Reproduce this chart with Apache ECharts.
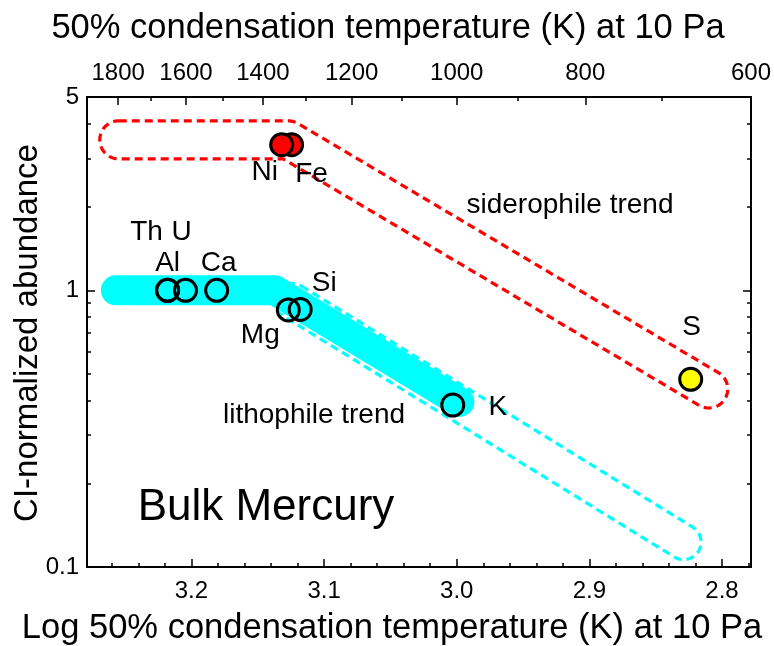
<!DOCTYPE html>
<html>
<head>
<meta charset="utf-8">
<title>Bulk Mercury</title>
<script src="https://cdn.jsdelivr.net/npm/echarts@6/dist/echarts.min.js"></script>
<style>
  html, body { margin: 0; padding: 0; background: #fff; }
  #chart { width: 774px; height: 646px; }
</style>
</head>
<body>
<div id="chart"></div>
<script>
// x: log10 of 50% condensation temperature (K) at 10 Pa, y: CI-normalized abundance
const lithoNames = ['Th', 'Al', 'U', 'Ca', 'Mg', 'Si', 'K'];
const lithoLogT = [3.218, 3.218, 3.2045, 3.181, 3.127, 3.118, 3.003];
const lithoAbund = [1.0, 1.0, 1.0, 1.0, 0.85, 0.853, 0.385];

const sideroNames = ['Fe', 'Ni'];
const sideroLogT = [3.1245, 3.132];
const sideroAbund = [3.36, 3.36];

const sulfurNames = ['S'];
const sulfurLogT = [2.8236];
const sulfurAbund = [0.477];

// centre lines of the trend envelopes [logT, abundance]
const lithoBand = [[3.257, 1.0], [3.137, 1.0], [2.998, 0.395]];
const lithoExtension = [[3.124, 0.915], [2.829, 0.123]];
const sideroTrend = [[3.2548, 3.50], [3.127, 3.50], [2.810, 0.44]];

// ticks
const logTicks = [2.8, 2.9, 3.0, 3.1, 3.2];
const logMinorTicks = [2.78, 2.82, 2.84, 2.86, 2.88, 2.92, 2.94, 2.96, 2.98, 3.02, 3.04, 3.06, 3.08,
  3.12, 3.14, 3.16, 3.18, 3.22, 3.24, 3.26];
const tempTicks = [1800, 1600, 1400, 1200, 1000, 800, 600];
const tempMinorTicks = [1700, 1500, 1300, 1100, 900, 700];
const abundTicks = [0.1, 1, 5];
const abundMinorTicks = [0.2, 0.3, 0.4, 0.5, 0.6, 0.7, 0.8, 0.9, 2, 3, 4];

const XMIN = Math.log10(600);
const XMAX = Math.log10(1900);
const YMIN = 0.1;
const YMAX = 5;

const FONT = 'Liberation Sans';

// label offsets from the symbol centre (px)
const labelOffset = {
  Th: [-21, -58], Al: [0, -27], U: [-4, -58], Ca: [2, -27],
  Mg: [-28, 25], Si: [24, -26], K: [45, 2],
  Fe: [20, 30], Ni: [-17, 28], S: [1, -52]
};

const chart = echarts.init(document.getElementById('chart'));

const axisLine = { show: true, onZero: false, lineStyle: { color: '#000', width: 2 } };
const noLine = { show: false, onZero: false };

function xTickAxis(position, values, len, labelFn) {
  return {
    type: 'value', position: position, inverse: true, min: XMIN, max: XMAX,
    axisLine: labelFn ? axisLine : noLine,
    splitLine: { show: false },
    axisTick: { show: true, inside: true, length: len, customValues: values,
      lineStyle: { color: '#000', width: 1.5 } },
    axisLabel: labelFn ? {
      show: true, customValues: values, formatter: labelFn, margin: 12,
      color: '#000', fontSize: 24, fontFamily: FONT
    } : { show: false }
  };
}

function yTickAxis(position, values, len, withLabels) {
  const logs = values.map(v => Math.log10(v));
  return {
    type: 'value', position: position, min: Math.log10(YMIN), max: Math.log10(YMAX),
    axisLine: noLine,
    splitLine: { show: false },
    axisTick: { show: true, inside: true, length: len, customValues: logs,
      lineStyle: { color: '#000', width: 1.5 } },
    axisLabel: withLabels ? {
      show: true, customValues: logs, margin: 8, color: '#000', fontSize: 24, fontFamily: FONT,
      formatter: v => {
        const i = logs.findIndex(l => Math.abs(l - v) < 1e-9);
        return i >= 0 ? String(values[i]) : '';
      }
    } : { show: false }
  };
}

// dashed envelope round a centre line: offset both sides, round ends and outer bends
function outlinePoints(pts, h) {
  const add = (p, a, r) => [p[0] + r * Math.cos(a), p[1] + r * Math.sin(a)];
  const arc = (res, c, a0, a1) => {
    const steps = Math.max(1, Math.ceil(Math.abs(a1 - a0) / (Math.PI / 36)));
    for (let k = 0; k <= steps; k++) res.push(add(c, a0 + (a1 - a0) * k / steps, h));
  };
  const side = p => {
    const res = [];
    const ang = [];
    for (let i = 0; i < p.length - 1; i++) {
      ang.push(Math.atan2(p[i + 1][1] - p[i][1], p[i + 1][0] - p[i][0]));
    }
    res.push(add(p[0], ang[0] - Math.PI / 2, h));
    for (let j = 1; j < p.length - 1; j++) {
      let d = ang[j] - ang[j - 1];
      while (d > Math.PI) d -= 2 * Math.PI;
      while (d < -Math.PI) d += 2 * Math.PI;
      if (d > 0) arc(res, p[j], ang[j - 1] - Math.PI / 2, ang[j - 1] + d - Math.PI / 2);
      else res.push(add(p[j], ang[j - 1] + d / 2 - Math.PI / 2, h / Math.cos(d / 2)));
    }
    const last = ang[ang.length - 1];
    res.push(add(p[p.length - 1], last - Math.PI / 2, h));
    return { res: res, first: ang[0], last: last };
  };
  const a = side(pts);
  const b = side(pts.slice().reverse());
  const out = a.res.slice();
  arc(out, pts[pts.length - 1], a.last - Math.PI / 2, a.last + Math.PI / 2);
  out.push(...b.res);
  arc(out, pts[0], a.first + Math.PI / 2, a.first + 3 * Math.PI / 2);
  return out;
}

function envelope(line, color, halfWidth) {
  return {
    type: 'custom', xAxisIndex: 0, yAxisIndex: 0, z: 1, silent: true,
    data: line,
    renderItem: (params, api) => {
      if (params.dataIndex !== 0) return null;
      const pts = line.map(p => api.coord(p));
      return {
        type: 'polygon',
        shape: { points: outlinePoints(pts, halfWidth) },
        style: { fill: 'none', stroke: color, lineWidth: 3.2, lineDash: [8, 5] }
      };
    }
  };
}

function points(names, xs, ys, fill) {
  return {
    type: 'scatter', xAxisIndex: 0, yAxisIndex: 0, z: 5, silent: true,
    symbol: 'circle', symbolSize: 22,
    itemStyle: { color: fill, borderColor: '#000', borderWidth: 3, opacity: 1 },
    label: {
      show: true, position: 'inside', formatter: '{b}', color: '#000',
      textBorderWidth: 0, fontSize: 28, fontFamily: FONT
    },
    emphasis: { disabled: true },
    data: names.map((n, i) => ({ name: n, value: [xs[i], ys[i]], label: { offset: labelOffset[n] } }))
  };
}

function text(str, x, y, size, rotation) {
  return {
    type: 'text', x: x, y: y, rotation: rotation || 0, silent: true, z: 10,
    style: { text: str, fill: '#000', fontSize: size, fontFamily: FONT, align: 'center', verticalAlign: 'middle' }
  };
}

const option = {
  animation: false,
  backgroundColor: '#fff',
  grid: { left: 87, right: 22, top: 97, bottom: 79 },
  xAxis: [
    xTickAxis('bottom', logTicks, 8, v => v.toFixed(1)),
    xTickAxis('bottom', logMinorTicks, 4, null),
    xTickAxis('top', tempTicks.map(t => Math.log10(t)), 8, v => String(Math.round(Math.pow(10, v)))),
    xTickAxis('top', tempMinorTicks.map(t => Math.log10(t)), 4, null)
  ],
  yAxis: [
    { type: 'log', logBase: 10, position: 'left', min: YMIN, max: YMAX,
      axisLine: axisLine, axisTick: { show: false }, axisLabel: { show: false }, splitLine: { show: false } },
    yTickAxis('left', abundTicks, 8, true),
    yTickAxis('left', abundMinorTicks, 4, false),
    Object.assign(yTickAxis('right', abundTicks, 8, false), { axisLine: axisLine }),
    yTickAxis('right', abundMinorTicks, 4, false)
  ],
  series: [
    envelope(lithoExtension, '#00ffff', 17.5),
    envelope(sideroTrend, '#ff0000', 19),
    {
      type: 'line', xAxisIndex: 0, yAxisIndex: 0, z: 2, silent: true,
      data: lithoBand, showSymbol: false, symbol: 'none',
      lineStyle: { color: '#00ffff', width: 30, cap: 'round', join: 'round' }
    },
    points(sideroNames, sideroLogT, sideroAbund, '#ff0000'),
    points(lithoNames, lithoLogT, lithoAbund, 'rgba(0,0,0,0)'),
    points(sulfurNames, sulfurLogT, sulfurAbund, '#ffff00')
  ],
  graphic: [
    text('50% condensation temperature (K) at 10 Pa', 388, 28, 34.5),
    text('Log 50% condensation temperature (K) at 10 Pa', 392, 628, 34.5),
    text('CI-normalized abundance', 28, 333, 33, Math.PI / 2),
    text('Bulk Mercury', 266, 508, 44),
    text('siderophile trend', 570, 205, 28),
    text('lithophile trend', 314, 415, 28)
  ]
};

chart.setOption(option);
</script>
</body>
</html>
